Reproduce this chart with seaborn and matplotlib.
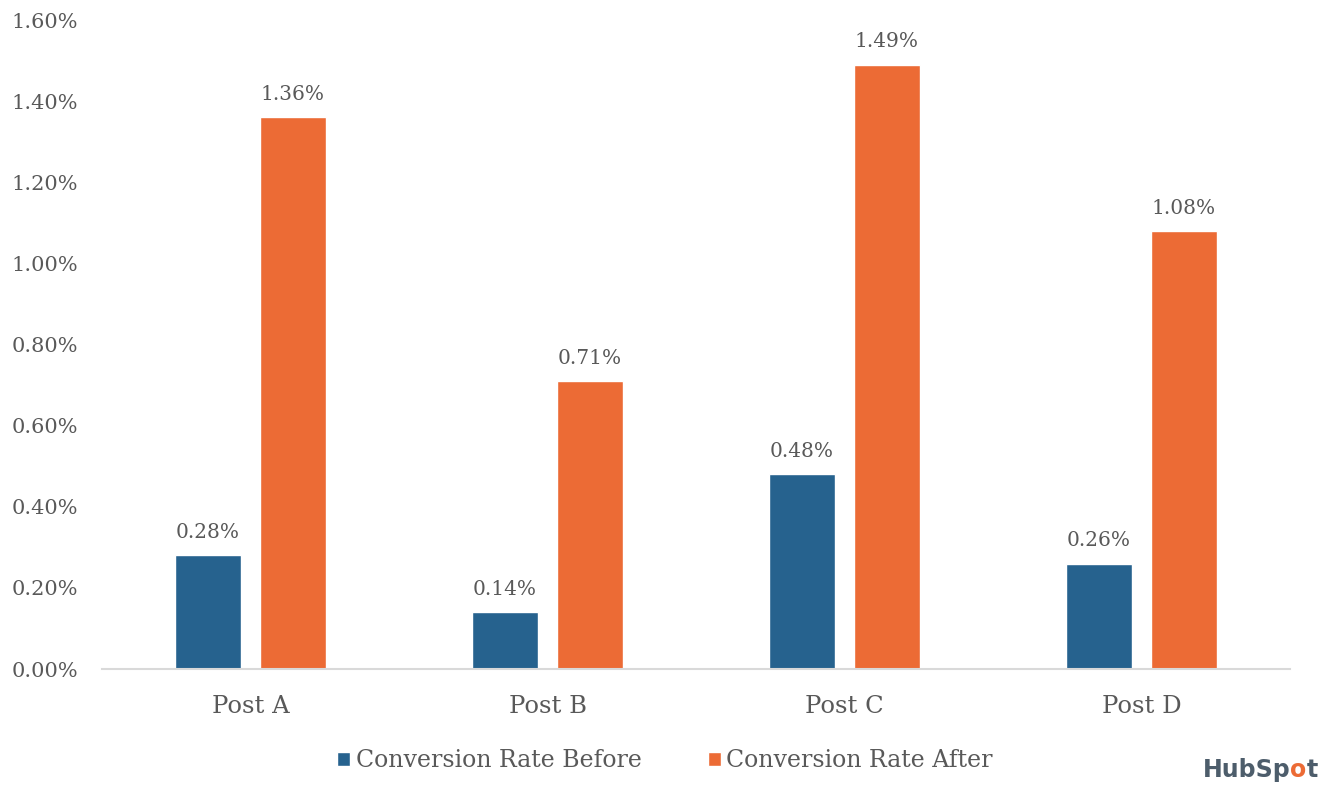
import matplotlib
matplotlib.use("Agg")
import matplotlib.pyplot as plt
from matplotlib.offsetbox import TextArea, HPacker, AnchoredOffsetbox
from matplotlib.patches import Patch
import seaborn as sns
import pandas as pd

posts = ["Post A", "Post B", "Post C", "Post D"]
rate_before = [0.28, 0.14, 0.48, 0.26]
rate_after = [1.36, 0.71, 1.49, 1.08]
series_names = ["Conversion Rate Before", "Conversion Rate After"]
y_ticks = [0.0, 0.2, 0.4, 0.6, 0.8, 1.0, 1.2, 1.4, 1.6]

BLUE = "#26628E"
ORANGE = "#EC6B35"
GRAY = "#595959"

df = pd.DataFrame({
    "post": posts * 2,
    "series": [series_names[0]] * len(posts) + [series_names[1]] * len(posts),
    "rate": rate_before + rate_after,
})

sns.set_theme(style="white")
plt.rcParams["font.family"] = ["DejaVu Serif"]

fig = plt.figure(figsize=(13.35, 7.94), dpi=100)
ax = fig.add_axes([0.0764, 0.1574, 0.8899, 0.8174])

sns.barplot(data=df, x="post", y="rate", hue="series", order=posts,
            hue_order=series_names, palette=[BLUE, ORANGE],
            width=0.572, gap=0.224, saturation=1, ax=ax, legend=False)

for container in ax.containers:
    ax.bar_label(container, labels=[f"{v:.2f}%" for v in container.datavalues],
                 padding=9.5, color=GRAY, fontsize=14.5)

ax.set_ylim(0, 1.6)
ax.set_xlim(-0.5, 3.5)
ax.set_yticks(y_ticks)
ax.set_yticklabels([f"{t:.2f}%" for t in y_ticks], color=GRAY, fontsize=15)
ax.tick_params(axis="y", length=0, pad=17)
ax.tick_params(axis="x", length=0, pad=19, labelsize=17.5, labelcolor=GRAY)
ax.set_xlabel("")
ax.set_ylabel("")
for side in ["top", "left", "right"]:
    ax.spines[side].set_visible(False)
ax.spines["bottom"].set_color("#D9D9D9")
ax.spines["bottom"].set_linewidth(1.5)

handles = [Patch(facecolor=BLUE), Patch(facecolor=ORANGE)]
fig.legend(handles, series_names, loc="center", bbox_to_anchor=(0.498, 0.042),
           ncol=2, frameon=False, fontsize=17, labelcolor=GRAY,
           handlelength=0.55, handleheight=0.55, handletextpad=0.25,
           columnspacing=2.8)

# brand mark in the lower right corner
parts = [("HubSp", "#4D5D6B"), ("o", ORANGE), ("t", "#4D5D6B")]
boxes = [TextArea(t, textprops=dict(color=c, fontsize=17, fontweight="bold",
                                    family="DejaVu Sans")) for t, c in parts]
mark = AnchoredOffsetbox(loc="lower right", child=HPacker(children=boxes, pad=0, sep=0),
                         frameon=False, bbox_to_anchor=(0.994, 0.003),
                         bbox_transform=fig.transFigure, borderpad=0.2)
fig.add_artist(mark)

fig.savefig("out.png", dpi=100, facecolor="white")
